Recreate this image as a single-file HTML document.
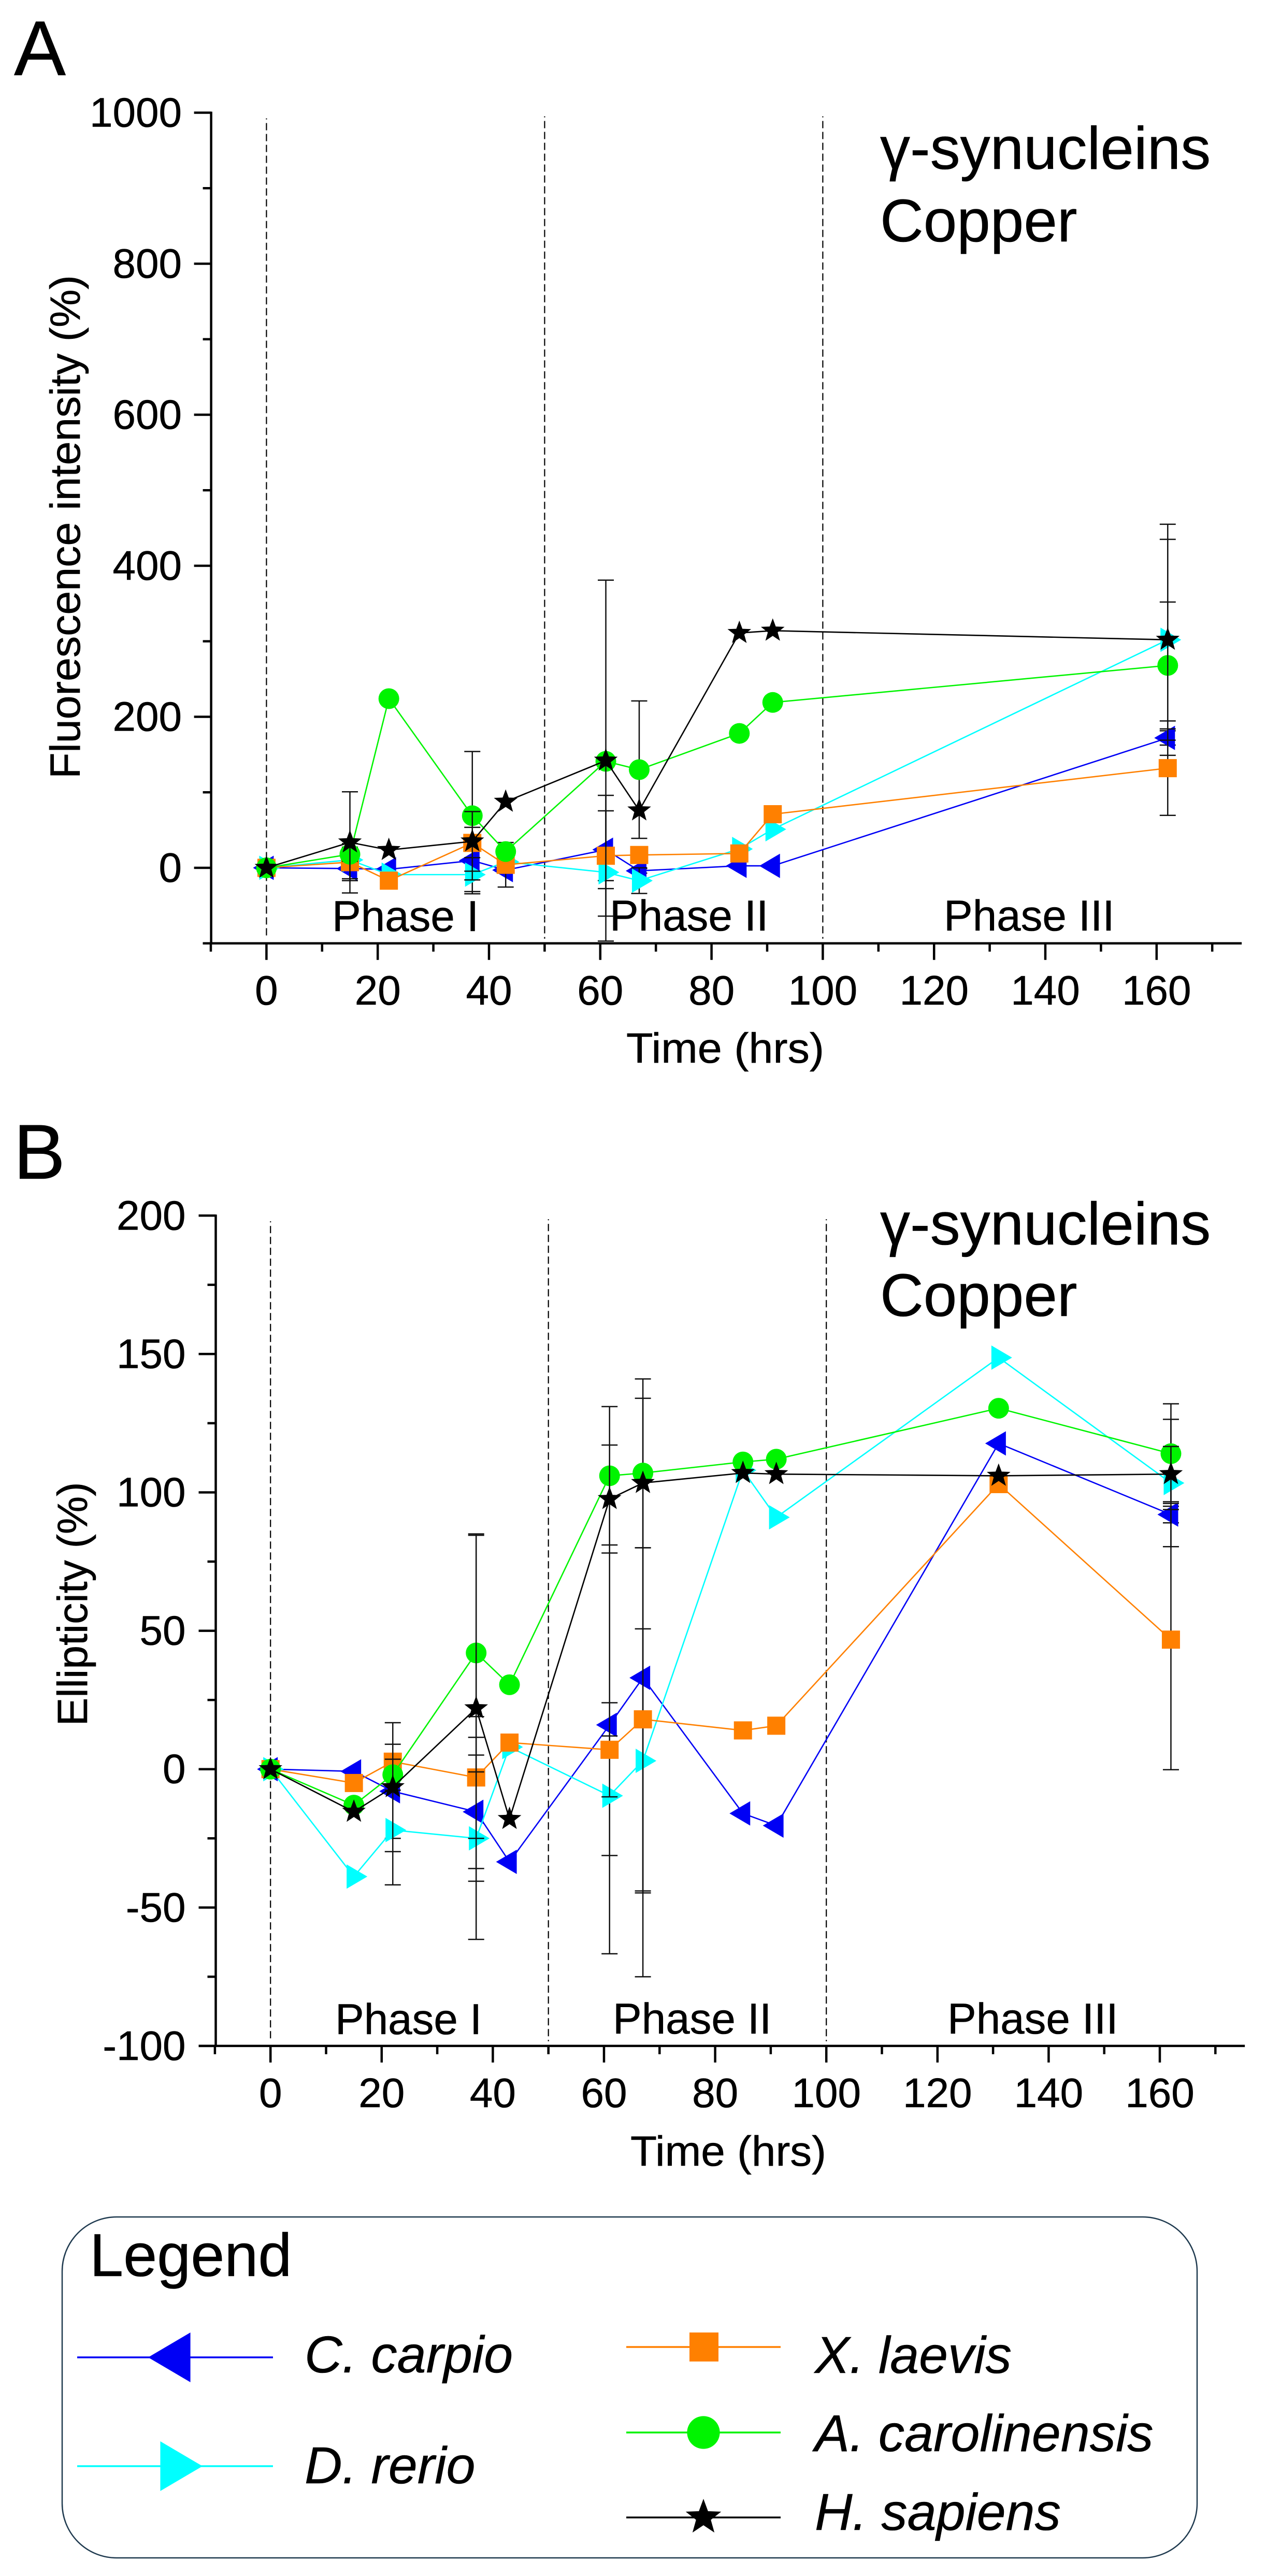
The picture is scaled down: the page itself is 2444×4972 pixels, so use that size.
<!DOCTYPE html>
<html lang="en">
<head>
<meta charset="utf-8">
<title>γ-synucleins Copper</title>
<style>
html,body{margin:0;padding:0;background:#fff;}
svg{display:block;}
text{font-family:"Liberation Sans","DejaVu Sans",sans-serif;fill:#000;stroke:#000;stroke-width:.6px;}
.tick{font-size:80px;}
.title{font-size:82px;}
.phase{font-size:83.5px;}
.big{font-size:116px;}
.letter{font-size:150px;}
.sp{font-size:100.5px;font-style:italic;}
</style>
</head>
<body>
<svg id="fig" xmlns="http://www.w3.org/2000/svg" width="2444" height="4972" viewBox="0 0 2444 4972">
  <rect x="0" y="0" width="2444" height="4972" fill="#fff"/>

  <g id="panelA">
    <text class="letter" x="27" y="145">A</text>
    <text class="big" x="1699" y="326">γ-synucleins</text>
    <text class="big" x="1699" y="466">Copper</text>
    <text class="title" text-anchor="middle" textLength="972" lengthAdjust="spacingAndGlyphs" transform="translate(154 1017) rotate(-90)">Fluorescence intensity (%)</text>
    <text class="title" text-anchor="middle" textLength="382" lengthAdjust="spacingAndGlyphs" x="1400" y="2051">Time (hrs)</text>
    <text class="phase" x="641" y="1797">Phase I</text>
    <text class="phase" x="1177" y="1796">Phase II</text>
    <text class="phase" x="1822" y="1796">Phase III</text>
  </g>

  <g id="panelB">
    <text class="letter" x="26" y="2275">B</text>
    <text class="big" x="1699" y="2402">γ-synucleins</text>
    <text class="big" x="1699" y="2540">Copper</text>
    <text class="title" text-anchor="middle" textLength="471" lengthAdjust="spacingAndGlyphs" transform="translate(168 3096) rotate(-90)">Ellipticity (%)</text>
    <text class="title" text-anchor="middle" textLength="378" lengthAdjust="spacingAndGlyphs" x="1406" y="4180">Time (hrs)</text>
    <text class="phase" x="647" y="3926">Phase I</text>
    <text class="phase" x="1183" y="3925">Phase II</text>
    <text class="phase" x="1829" y="3925">Phase III</text>
  </g>

  <g id="legend">
    <rect x="120" y="4279" width="2191" height="658" rx="105" ry="105" fill="#fff" stroke="#1f3a4f" stroke-width="2.5"/>
    <text class="big" x="173" y="4393" style="font-size:117px">Legend</text>
    <text class="sp" x="588" y="4579">C. carpio</text>
    <text class="sp" x="588" y="4793">D. rerio</text>
    <text class="sp" x="1573" y="4580">X. laevis</text>
    <text class="sp" x="1573" y="4731">A. carolinensis</text>
    <text class="sp" x="1573" y="4883">H. sapiens</text>
  </g>
</svg>

<script>
// ---- Panel A data: fluorescence intensity (%) ----
const timesA = [0, 15, 22, 37, 43, 61, 67, 85, 91, 162];
const carpioA = [0, -1, -2, 9.6, -3, 24, -4, 2.7, 2.6, 172];
const rerioA = [0, 10.5, -9, -9, 8, -6, -17, 25, 51, 302];
const laevisA = [0, 7.5, -17, 33, 4, 16, 17, 19, 71, 132];
const carolinensisA = [0, 18, 224, 69, 21.5, 141, 130, 178, 219, 268];
const sapiensA = [0, 33.7, 23.6, 35, 87.5, 142, 76, 311, 314, 302];
const carpioErrA = [0, 16, 0, 44, 0, 51.5, 3, 0, 0, 9.5];
const rerioErrA = [0, 25, 0, 22.5, 0, 11, 17, 0, 0, 133];
const laevisErrA = [0, 24.5, 0, 0, 29.5, 80, 0, 0, 0, 62.5];
const carolinensisErrA = [0, 9.4, 0, 85, 0, 0, 91, 0, 0, 84];
const sapiensErrA = [0, 67, 0, 39.5, 0, 239, 0, 0, 0, 153];

// ---- Panel B data: ellipticity (%) ----
const timesB = [0, 15, 22, 37, 43, 61, 67, 85, 91, 131, 162];
const carpioB = [0, -0.8, -8, -15.4, -33.5, 16, 33, -16, -20.4, 117.7, 92];
const rerioB = [0, -38.8, -22, -25, 8, -9.6, 3, 108, 91, 148.7, 103.4];
const laevisB = [0, -5, 2.7, -3, 9.6, 7, 18, 14, 15.7, 103, 46.8];
const carolinensisB = [0, -13, -2, 42, 30.5, 106, 107, 111, 112, 130.4, 114];
const sapiensB = [0, -15.4, -6.5, 22, -18, 97.6, 103.4, 107, 106.6, 106, 106.6];
const carpioErrB = [0, 0, 17, 20.5, 0, 82.7, 108, 0, 0, 0, 3];
const rerioErrB = [0, 0, 19.8, 36.5, 0, 21.6, 47.7, 0, 0, 0, 23];
const laevisErrB = [0, 0, 0, 22, 0, 17, 62, 0, 0, 0, 47];
const carolinensisErrB = [0, 0, 5.6, 43, 0, 25, 27, 0, 0, 0, 18];
const sapiensErrB = [0, 0, 23.3, 62.5, 0, 19.5, 0, 0, 0, 0, 10];

// ---- Tick values ----
const xMajorTicks = [0, 20, 40, 60, 80, 100, 120, 140, 160];
const xMinorTicks = [-10, 10, 30, 50, 70, 90, 110, 130, 150, 170];
const phaseBoundaries = [0, 50, 100];
const yMajorTicksA = [0, 200, 400, 600, 800, 1000];
const yMinorTicksA = [-100, 100, 300, 500, 700, 900];
const yMajorTicksB = [-100, -50, 0, 50, 100, 150, 200];
const yMinorTicksB = [-75, -25, 25, 75, 125, 175];

const NS = 'http://www.w3.org/2000/svg';

function make(tag, parent) {
  const el = document.createElementNS(NS, tag);
  parent.appendChild(el);
  return el;
}

function starPoints(cx, cy, R, r) {
  const pts = [];
  for (let i = 0; i < 10; i++) {
    const rad = i % 2 === 0 ? R : r;
    const a = -Math.PI / 2 + i * Math.PI / 5;
    pts.push((cx + rad * Math.cos(a)).toFixed(2) + ',' + (cy + rad * Math.sin(a)).toFixed(2));
  }
  return pts.join(' ');
}

function drawMarker(kind, cx, cy, k, color, parent) {
  let el;
  if (kind === 'left') {
    el = make('polygon', parent);
    el.setAttribute('points', (cx - 26 * k) + ',' + cy + ' ' + (cx + 14 * k) + ',' + (cy - 23.5 * k) + ' ' + (cx + 14 * k) + ',' + (cy + 23.5 * k));
  } else if (kind === 'right') {
    el = make('polygon', parent);
    el.setAttribute('points', (cx + 26 * k) + ',' + cy + ' ' + (cx - 14 * k) + ',' + (cy - 23.5 * k) + ' ' + (cx - 14 * k) + ',' + (cy + 23.5 * k));
  } else if (kind === 'square') {
    el = make('rect', parent);
    el.setAttribute('x', cx - 17.5 * k);
    el.setAttribute('y', cy - 17.5 * k);
    el.setAttribute('width', 35 * k);
    el.setAttribute('height', 35 * k);
  } else if (kind === 'circle') {
    el = make('circle', parent);
    el.setAttribute('cx', cx);
    el.setAttribute('cy', cy);
    el.setAttribute('r', 20 * k);
  } else {
    el = make('polygon', parent);
    el.setAttribute('points', starPoints(cx, cy, 24 * k, 10 * k));
  }
  el.setAttribute('fill', color);
  return el;
}

function drawLine(x1, y1, x2, y2, color, width, parent) {
  const el = make('line', parent);
  el.setAttribute('x1', x1);
  el.setAttribute('y1', y1);
  el.setAttribute('x2', x2);
  el.setAttribute('y2', y2);
  el.setAttribute('stroke', color);
  el.setAttribute('stroke-width', width);
  return el;
}

function drawPanel(root, c, series) {
  const X = function (t) { return c.x0 + t * c.xs; };
  const Y = function (v) { return c.y0 - v * c.ys; };
  const bottom = Y(c.yMin);
  const top = Y(c.yMax);

  // phase boundary guides
  phaseBoundaries.forEach(function (t, i) {
    const g = drawLine(X(t), top + (i === 0 ? 11 : 7), X(t), bottom - 9, '#000', 2.2, root);
    g.setAttribute('stroke-dasharray', '14 7');
    g.setAttribute('stroke-dashoffset', '12');
    
    
  });

  // series: connecting line, then error bars, then markers
  series.forEach(function (s) {
    const grp = make('g', root);
    
    

    const path = make('polyline', grp);
    path.setAttribute('points', s.values.map(function (v, i) { return X(c.times[i]).toFixed(2) + ',' + Y(v).toFixed(2); }).join(' '));
    path.setAttribute('fill', 'none');
    path.setAttribute('stroke', s.color);
    path.setAttribute('stroke-width', 2.6);
    path.setAttribute('stroke-linejoin', 'round');
    
    

    s.values.forEach(function (v, i) {
      const e = s.err[i];
      if (!e) { return; }
      const eg = make('g', grp);
      
      
      const px = X(c.times[i]);
      drawLine(px, Y(v + e), px, Y(v - e), '#111', 2.5, eg);
      drawLine(px - 15.5, Y(v + e), px + 15.5, Y(v + e), '#111', 2.5, eg);
      drawLine(px - 15.5, Y(v - e), px + 15.5, Y(v - e), '#111', 2.5, eg);
    });

    s.values.forEach(function (v, i) {
      const m = drawMarker(s.kind, X(c.times[i]), Y(v), 1, s.color, grp);
      
      
    });
  });

  // axes
  const yAxis = drawLine(c.axisX, top - 2, c.axisX, bottom + 2, '#000', 4.5, root);
  
  

  const xAxis = drawLine(c.axisX - c.leftExt, bottom, X(175.3), bottom, '#000', 4.5, root);
  
  

  c.yMajor.forEach(function (v) {
    const t = drawLine(c.axisX - 33, Y(v), c.axisX, Y(v), '#000', 4.5, root);
    
    
    const label = make('text', root);
    label.setAttribute('class', 'tick');
    label.setAttribute('x', c.labelX);
    label.setAttribute('y', Y(v) + 27);
    label.setAttribute('text-anchor', 'end');
    label.textContent = String(v);
    
    
  });
  c.yMinor.forEach(function (v) {
    const t = drawLine(c.axisX - 16, Y(v), c.axisX, Y(v), '#000', 4.5, root);
    
    
  });
  xMajorTicks.forEach(function (v) {
    const t = drawLine(X(v), bottom, X(v), bottom + 32, '#000', 4.5, root);
    
    
    const label = make('text', root);
    label.setAttribute('class', 'tick');
    label.setAttribute('x', X(v));
    label.setAttribute('y', bottom + 118);
    label.setAttribute('text-anchor', 'middle');
    label.textContent = String(v);
    
    
  });
  xMinorTicks.forEach(function (v) {
    const t = drawLine(X(v), bottom, X(v), bottom + 16, '#000', 4.5, root);
    
    
  });
}

const blue = '#0000f5';
const cyan = '#00ffff';
const orange = '#ff8000';
const green = '#00f400';
const black = '#000000';

drawPanel(document.getElementById('panelA'), {
  times: timesA, x0: 514.4, xs: 10.74, y0: 1675, ys: 1.4575, yMin: -100, yMax: 1000,
  axisX: 407.6, leftExt: 16, labelX: 351, yMajor: yMajorTicksA, yMinor: yMinorTicksA
}, [
  { name: 'c-carpio', kind: 'left', color: blue, values: carpioA, err: carpioErrA },
  { name: 'd-rerio', kind: 'right', color: cyan, values: rerioA, err: rerioErrA },
  { name: 'x-laevis', kind: 'square', color: orange, values: laevisA, err: laevisErrA },
  { name: 'a-carolinensis', kind: 'circle', color: green, values: carolinensisA, err: carolinensisErrA },
  { name: 'h-sapiens', kind: 'star', color: black, values: sapiensA, err: sapiensErrA }
]);

drawPanel(document.getElementById('panelB'), {
  times: timesB, x0: 522.2, xs: 10.73, y0: 3414.7, ys: 5.342, yMin: -100, yMax: 200,
  axisX: 416.5, leftExt: 33, labelX: 358.5, yMajor: yMajorTicksB, yMinor: yMinorTicksB
}, [
  { name: 'c-carpio', kind: 'left', color: blue, values: carpioB, err: carpioErrB },
  { name: 'd-rerio', kind: 'right', color: cyan, values: rerioB, err: rerioErrB },
  { name: 'x-laevis', kind: 'square', color: orange, values: laevisB, err: laevisErrB },
  { name: 'a-carolinensis', kind: 'circle', color: green, values: carolinensisB, err: carolinensisErrB },
  { name: 'h-sapiens', kind: 'star', color: black, values: sapiensB, err: sapiensErrB }
]);

// legend keys
const legendRoot = document.getElementById('legend');

function legendKey(name, x1, x2, y, mx, kind, k, color) {
  const g = make('g', legendRoot);
  
  
  drawLine(x1, y, x2, y, color, 3.4, g);
  drawMarker(kind, mx, y, k, color, g);
}

legendKey('c-carpio', 149, 527, 4550, 339, 'left', 2.04, blue);
legendKey('d-rerio', 149, 527, 4760, 338, 'right', 2.04, cyan);
legendKey('x-laevis', 1209, 1507, 4530, 1359, 'square', 1.6, orange);
legendKey('a-carolinensis', 1209, 1507, 4695, 1358, 'circle', 1.58, green);
legendKey('h-sapiens', 1209, 1507, 4859, 1358, 'star', 1.5, black);
</script>
</body>
</html>
